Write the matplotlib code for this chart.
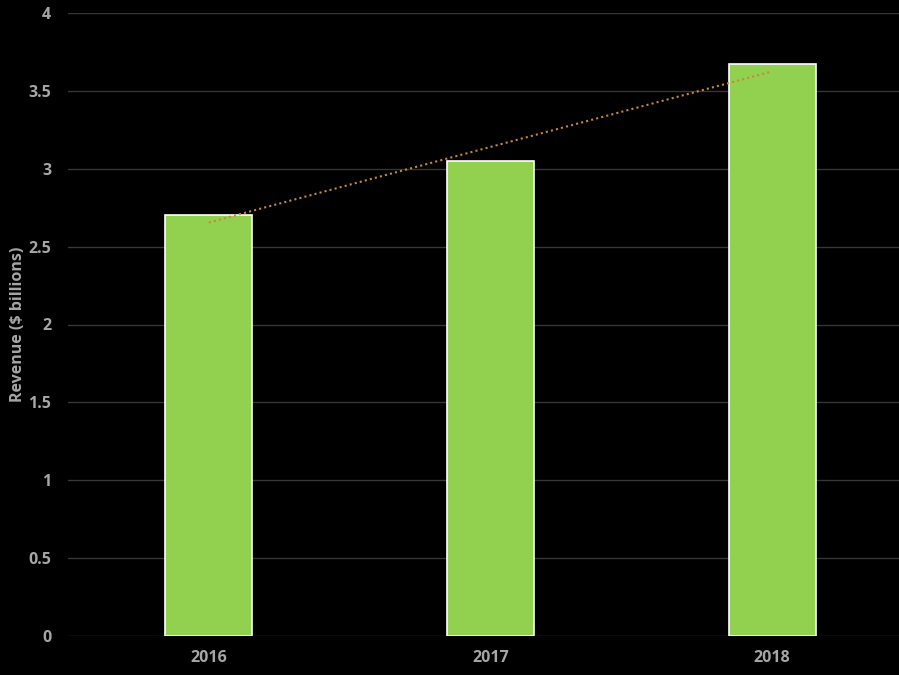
import numpy as np
import matplotlib.pyplot as plt

years = ["2016", "2017", "2018"]
revenue = [2.70, 3.05, 3.67]
yticks = [0, 0.5, 1, 1.5, 2, 2.5, 3, 3.5, 4]
ytick_labels = ["0", "0.5", "1", "1.5", "2", "2.5", "3", "3.5", "4"]

plt.rcParams['font.family'] = ['Open Sans', 'DejaVu Sans']
grey = "#a6a6a6"

fig = plt.figure(figsize=(8.99, 6.75), dpi=100, facecolor="black")
# plot area runs a bit past the right edge of the picture
ax = fig.add_axes([68/899, 1 - 636/675, 845/899, 623/675], facecolor="black")

x = np.arange(len(years))
ax.bar(x, revenue, width=0.31, color="#92D050", edgecolor="white", linewidth=1.2, zorder=3)

# linear trendline
k, b = np.polyfit(x, revenue, 1)
ax.plot(x[[0, -1]], k * x[[0, -1]] + b, linestyle=(0, (1, 1.5)), color="#c5893a", linewidth=1.5, zorder=4)

ax.set_xlim(-0.5, 2.5)
ax.set_ylim(0, 4)
ax.set_xticks(x)
ax.set_xticklabels(years)
ax.set_yticks(yticks)
ax.set_yticklabels(ytick_labels)
ax.grid(axis="y", color="#363636", linewidth=1, zorder=0)
ax.tick_params(length=0, colors=grey, labelsize=11.5, pad=12)
ax.tick_params(axis="x", pad=10)
for lbl in ax.get_xticklabels() + ax.get_yticklabels():
    lbl.set_fontweight("bold")
for s in ax.spines.values():
    s.set_visible(False)
ax.set_ylabel("Revenue ($ billions)", color=grey, fontsize=11.5, fontweight="bold")
ax.yaxis.set_label_coords(-42/845, 0.5)

fig.savefig("out.png", dpi=100, facecolor="black")
